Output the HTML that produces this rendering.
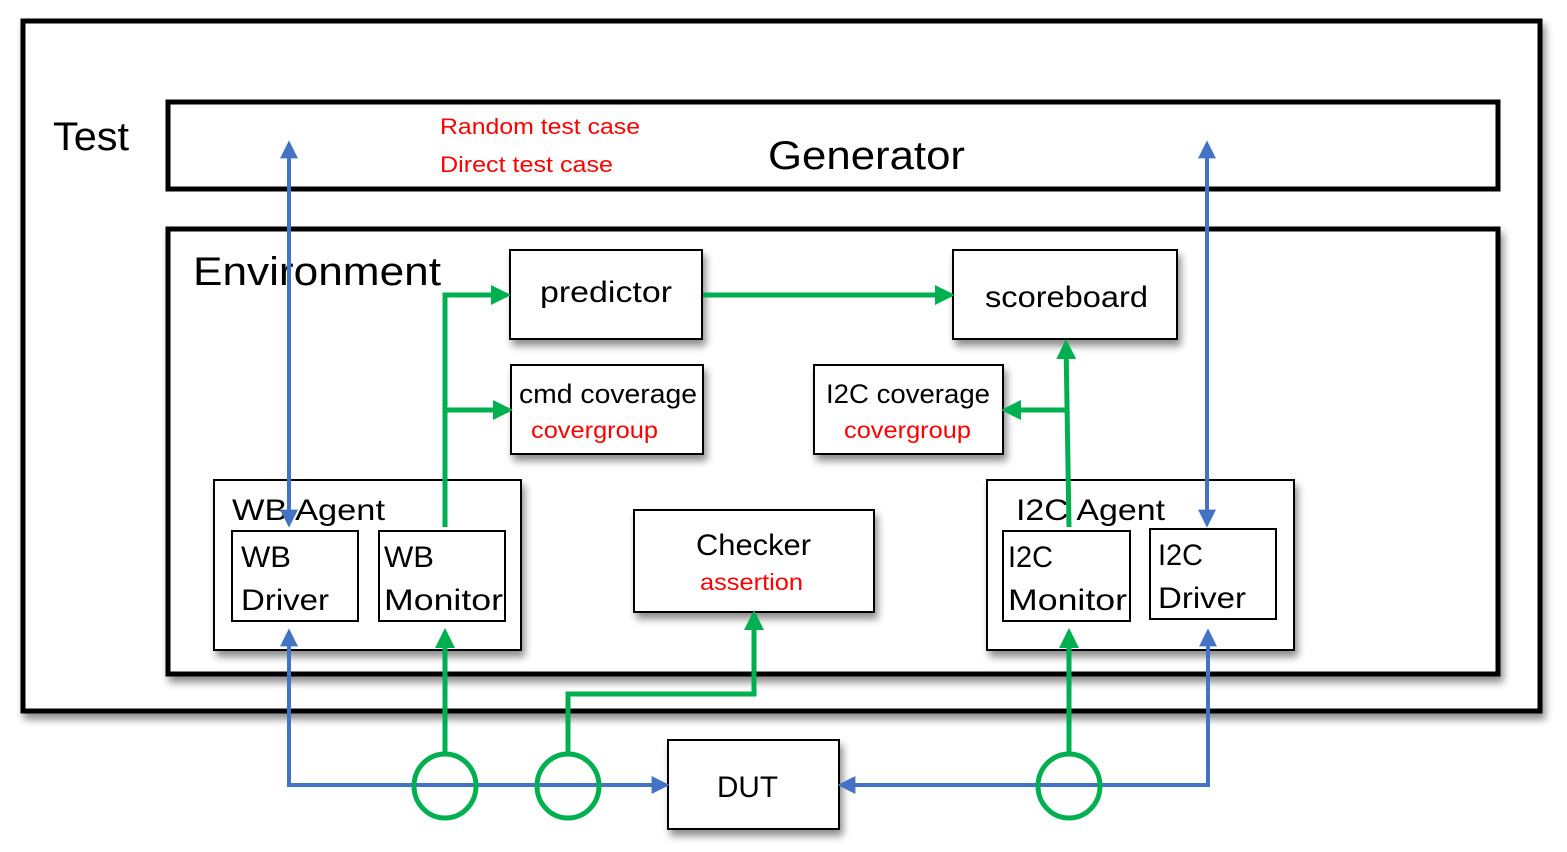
<!DOCTYPE html>
<html><head><meta charset="utf-8"><style>
html,body{margin:0;padding:0;background:#fff;}
svg{display:block;}
text{font-family:"Liberation Sans","DejaVu Sans",sans-serif;}
</style></head><body>
<svg width="1567" height="852" viewBox="0 0 1567 852" xmlns="http://www.w3.org/2000/svg">
<defs>
<filter id="sh" x="-5%" y="-5%" width="115%" height="125%">
<feGaussianBlur in="SourceAlpha" stdDeviation="4"/>
<feOffset dx="3" dy="6"/>
<feComponentTransfer><feFuncA type="linear" slope="0.45"/></feComponentTransfer>
<feMerge><feMergeNode/><feMergeNode in="SourceGraphic"/></feMerge>
</filter>
<marker id="ab" markerWidth="4.5" markerHeight="4.5" refX="3.6" refY="2.25" orient="auto-start-reverse" markerUnits="strokeWidth"><path d="M0,0 L4.5,2.25 L0,4.5 z" fill="#4472C4"/></marker>
<marker id="ag" markerWidth="4" markerHeight="4" refX="3.2" refY="2" orient="auto-start-reverse" markerUnits="strokeWidth"><path d="M0,0 L4,2 L0,4 z" fill="#00B050"/></marker>
</defs>

<rect x="23" y="21" width="1517" height="690" fill="#fff" stroke="#000" stroke-width="5" filter="url(#sh)"/>
<rect x="168" y="102" width="1330" height="87" fill="#fff" stroke="#000" stroke-width="5"/>
<rect x="168" y="229" width="1330" height="445" fill="#fff" stroke="#000" stroke-width="5" filter="url(#sh)"/>

<text x="53" y="150" font-size="40" textLength="76" lengthAdjust="spacingAndGlyphs">Test</text>
<text x="768" y="169" font-size="40" textLength="197" lengthAdjust="spacingAndGlyphs">Generator</text>
<text x="440" y="134" font-size="22" fill="#f00" textLength="200" lengthAdjust="spacingAndGlyphs">Random test case</text>
<text x="440" y="172" font-size="22" fill="#f00" textLength="173" lengthAdjust="spacingAndGlyphs">Direct test case</text>
<text x="193" y="285" font-size="40" textLength="248" lengthAdjust="spacingAndGlyphs">Environment</text>

<g stroke="#000" stroke-width="2" fill="#fff" filter="url(#sh)">
<rect x="510" y="250" width="192" height="89"/>
<rect x="953" y="250" width="224" height="89"/>
<rect x="511" y="365" width="192" height="89"/>
<rect x="814" y="365" width="189" height="89"/>
<rect x="214" y="480" width="307" height="170"/>
<rect x="987" y="480" width="307" height="170"/>
<rect x="634" y="510" width="240" height="102"/>
<rect x="668" y="740" width="171" height="89"/>
</g>
<g stroke="#000" stroke-width="2" fill="#fff">
<rect x="232" y="531" width="126" height="90"/>
<rect x="379" y="531" width="126" height="90"/>
<rect x="1003" y="531" width="127" height="90"/>
<rect x="1150" y="529" width="126" height="90"/>
</g>

<text x="540" y="302" font-size="30" textLength="132" lengthAdjust="spacingAndGlyphs">predictor</text>
<text x="985" y="307" font-size="30" textLength="163" lengthAdjust="spacingAndGlyphs">scoreboard</text>
<text x="519" y="403" font-size="27" textLength="178" lengthAdjust="spacingAndGlyphs">cmd coverage</text>
<text x="531" y="438" font-size="23" fill="#f00" textLength="127" lengthAdjust="spacingAndGlyphs">covergroup</text>
<text x="826" y="403" font-size="27" textLength="164" lengthAdjust="spacingAndGlyphs">I2C coverage</text>
<text x="844" y="438" font-size="23" fill="#f00" textLength="127" lengthAdjust="spacingAndGlyphs">covergroup</text>
<text x="232" y="520" font-size="30" textLength="153" lengthAdjust="spacingAndGlyphs">WB Agent</text>
<text x="1016" y="520" font-size="30" textLength="149" lengthAdjust="spacingAndGlyphs">I2C Agent</text>
<text x="241" y="567" font-size="30" textLength="50" lengthAdjust="spacingAndGlyphs">WB</text>
<text x="241" y="610" font-size="30" textLength="88" lengthAdjust="spacingAndGlyphs">Driver</text>
<text x="384" y="567" font-size="30" textLength="50" lengthAdjust="spacingAndGlyphs">WB</text>
<text x="384" y="610" font-size="30" textLength="119" lengthAdjust="spacingAndGlyphs">Monitor</text>
<text x="1008" y="567" font-size="30" textLength="45" lengthAdjust="spacingAndGlyphs">I2C</text>
<text x="1008" y="610" font-size="30" textLength="119" lengthAdjust="spacingAndGlyphs">Monitor</text>
<text x="1158" y="565" font-size="30" textLength="45" lengthAdjust="spacingAndGlyphs">I2C</text>
<text x="1158" y="608" font-size="30" textLength="88" lengthAdjust="spacingAndGlyphs">Driver</text>
<text x="696" y="555" font-size="30" textLength="115" lengthAdjust="spacingAndGlyphs">Checker</text>
<text x="700" y="590" font-size="23" fill="#f00" textLength="103" lengthAdjust="spacingAndGlyphs">assertion</text>
<text x="717" y="797" font-size="30" textLength="61" lengthAdjust="spacingAndGlyphs">DUT</text>

<g fill="none" stroke="#4472C4" stroke-width="4">
<line x1="289" y1="144" x2="289" y2="524" marker-start="url(#ab)" marker-end="url(#ab)"/>
<line x1="1207" y1="144" x2="1207" y2="524" marker-start="url(#ab)" marker-end="url(#ab)"/>
<polyline points="289,632 289,785 666,785" marker-start="url(#ab)" marker-end="url(#ab)"/>
<polyline points="1208,632 1208,785 841,785" marker-start="url(#ab)" marker-end="url(#ab)"/>
</g>
<g fill="none" stroke="#00B050" stroke-width="5">
<polyline points="445,527 445,295 507,295" marker-end="url(#ag)"/>
<line x1="445" y1="410" x2="509" y2="410" marker-end="url(#ag)"/>
<line x1="703" y1="295" x2="951" y2="295" marker-end="url(#ag)"/>
<polyline points="1069,527 1066,343" marker-end="url(#ag)"/>
<line x1="1068" y1="410" x2="1005" y2="410" marker-end="url(#ag)"/>
<line x1="445" y1="753" x2="445" y2="632" marker-end="url(#ag)"/>
<polyline points="568,753 568,694 754,694 754,614" marker-end="url(#ag)"/>
<line x1="1069" y1="753" x2="1069" y2="632" marker-end="url(#ag)"/>
<ellipse cx="445" cy="786" rx="31" ry="32"/>
<ellipse cx="568" cy="786" rx="31" ry="32"/>
<ellipse cx="1069" cy="786" rx="31" ry="32"/>
</g>
</svg>
</body></html>
